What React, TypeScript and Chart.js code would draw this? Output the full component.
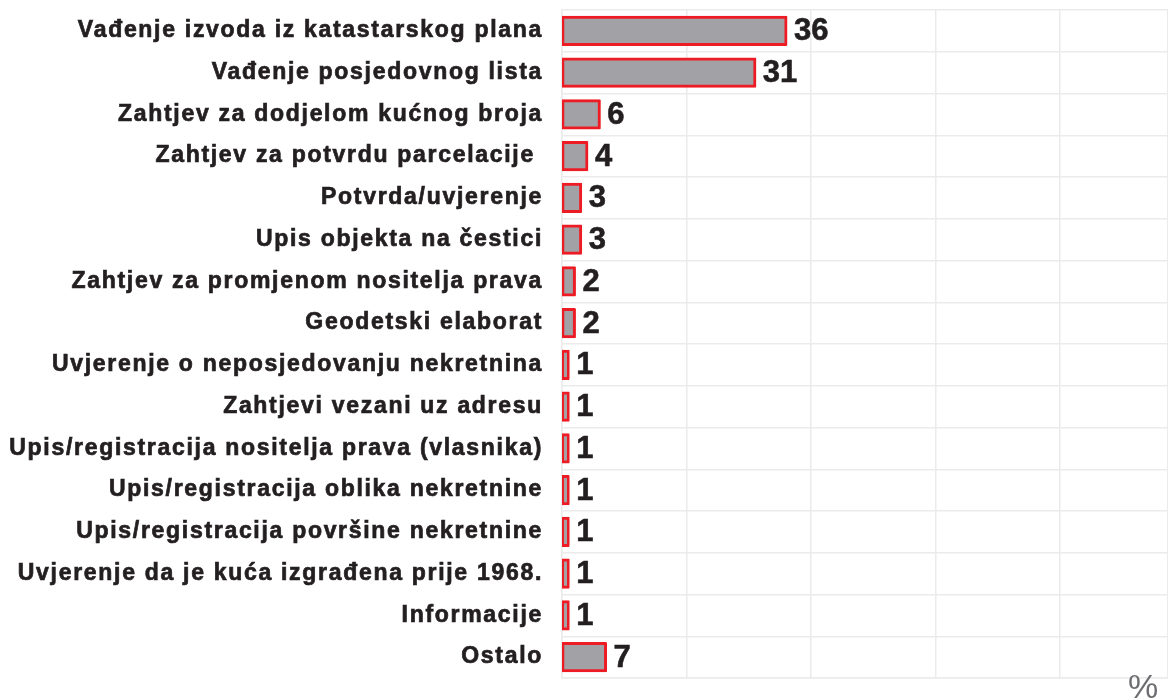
import React, { useEffect, useRef } from "react";
import { Chart, registerables } from "chart.js";

Chart.register(...registerables);

const categories: string[] = [
  "Vađenje izvoda iz katastarskog plana",
  "Vađenje posjedovnog lista",
  "Zahtjev za dodjelom kućnog broja",
  "Zahtjev za potvrdu parcelacije ",
  "Potvrda/uvjerenje",
  "Upis objekta na čestici",
  "Zahtjev za promjenom nositelja prava",
  "Geodetski elaborat",
  "Uvjerenje o neposjedovanju nekretnina",
  "Zahtjevi vezani uz adresu",
  "Upis/registracija nositelja prava (vlasnika)",
  "Upis/registracija oblika nekretnine",
  "Upis/registracija površine nekretnine",
  "Uvjerenje da je kuća izgrađena prije 1968.",
  "Informacije",
  "Ostalo",
];

const values: number[] = [36, 31, 6, 4, 3, 3, 2, 2, 1, 1, 1, 1, 1, 1, 1, 7];
const valueLabels: string[] = ["36", "31", "6", "4", "3", "3", "2", "2", "1", "1", "1", "1", "1", "1", "1", "7"];
const unitLabel = "%";

const FONT = "'Liberation Sans', Arial, sans-serif";
const TEXT = "#231F20";
const SPACING = "1.7px";

const spacingPlugin = {
  id: "labelSpacing",
  beforeLayout(chart: any) {
    (chart.ctx as any).letterSpacing = SPACING;
  },
  beforeDraw(chart: any) {
    (chart.ctx as any).letterSpacing = SPACING;
  },
};

const valuePlugin = {
  id: "valueLabels",
  afterDatasetsDraw(chart: any) {
    const ctx = chart.ctx;
    const meta = chart.getDatasetMeta(0);
    ctx.save();
    (ctx as any).letterSpacing = "0px";
    ctx.font = `bold 31px ${FONT}`;
    ctx.fillStyle = TEXT;
    ctx.strokeStyle = TEXT;
    ctx.lineWidth = 0.6;
    ctx.textAlign = "left";
    ctx.textBaseline = "middle";
    meta.data.forEach((bar: any, i: number) => {
      ctx.fillText(valueLabels[i], bar.x + 8, bar.y + 1);
      ctx.strokeText(valueLabels[i], bar.x + 8, bar.y + 1);
    });
    ctx.restore();
  },
  afterDraw(chart: any) {
    const ctx = chart.ctx;
    ctx.save();
    (ctx as any).letterSpacing = "0px";
    ctx.font = `34px ${FONT}`;
    ctx.fillStyle = "#6D6E71";
    ctx.textAlign = "left";
    ctx.textBaseline = "alphabetic";
    ctx.fillText(unitLabel, 1128, 698);
    ctx.restore();
  },
};

export default function App() {
  const ref = useRef<HTMLCanvasElement>(null);
  useEffect(() => {
    if (!ref.current) return;
    const chart = new Chart(ref.current, {
      type: "bar",
      data: {
        labels: categories,
        datasets: [
          {
            data: values,
            backgroundColor: "#A2A1A6",
            borderColor: "#ED1C24",
            borderWidth: 3,
            borderSkipped: false,
            inflateAmount: 1.5,
            borderRadius: 1,
            categoryPercentage: 1,
            barPercentage: 0.65,
          } as any,
        ],
      },
      options: {
        indexAxis: "y",
        animation: false,
        responsive: false,
        maintainAspectRatio: false,
        layout: { padding: { top: 10, bottom: 22, left: 0, right: 0 } },
        plugins: {
          legend: { display: false },
          tooltip: { enabled: false },
        },
        scales: {
          x: {
            min: 0,
            max: 97.4,
            ticks: { display: false, stepSize: 20 },
            grid: { color: "#EBEBEB", lineWidth: 1.5, drawTicks: false },
            border: { color: "#EBEBEB", width: 1.5 },
            afterFit(scale: any) {
              scale.height = 0;
            },
          },
          y: {
            grid: { offset: true, color: "#EBEBEB", lineWidth: 1.5, drawTicks: false },
            border: { color: "#EBEBEB", width: 1.5 },
            ticks: {
              color: TEXT,
              padding: 19,
              textStrokeColor: TEXT,
              textStrokeWidth: 0.7,
              font: { family: FONT, size: 23, weight: "bold" },
            } as any,
            afterFit(scale: any) {
              scale.width = 562;
              scale.paddingTop = 0;
              scale.paddingBottom = 0;
            },
          },
        },
      },
      plugins: [spacingPlugin, valuePlugin],
    });
    return () => chart.destroy();
  }, []);
  return (
    <div style={{ position: "fixed", left: 0, top: 0, width: 1168, height: 700, background: "#fff" }}>
      <canvas ref={ref} width={1168} height={700} style={{ width: 1168, height: 700 }} />
    </div>
  );
}
